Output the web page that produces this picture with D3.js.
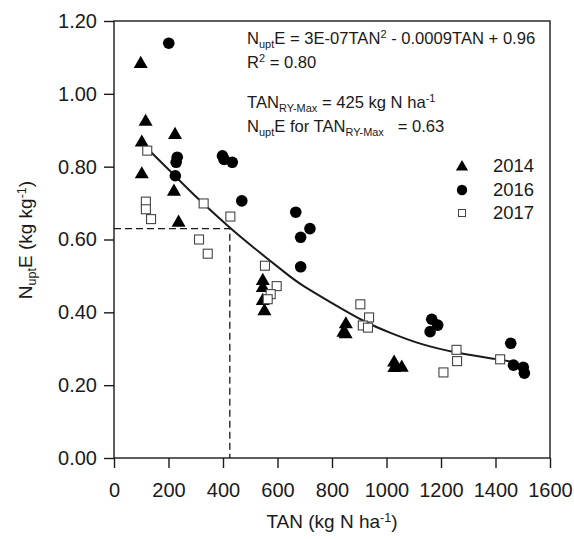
<!DOCTYPE html>
<html><head><meta charset="utf-8">
<script src="https://cdn.jsdelivr.net/npm/d3@7"></script>
<style>
body{margin:0;background:#fff;}
text{font-family:"Liberation Sans",Arial,sans-serif;fill:#1a1a1a;white-space:pre;}
</style></head>
<body><svg id="c" width="574" height="539"></svg>
<script>
// ---- data ----
const xTicks = [0,200,400,600,800,1000,1200,1400,1600];
const yTicks = [0,0.2,0.4,0.6,0.8,1.0,1.2];
const years = ["2014","2016","2017"];
const tan2014 = [98,116,102,102,224,220,237,546,546,546,552,851,842,850,1028,1029,1056];
const nue2014 = [1.085,0.926,0.869,0.782,0.89,0.734,0.649,0.489,0.47,0.434,0.406,0.37,0.347,0.343,0.265,0.25,0.251];
const tan2016 = [201,232,228,225,398,404,434,469,667,719,685,685,1166,1188,1160,1456,1466,1502,1506];
const nue2016 = [1.139,0.826,0.812,0.775,0.83,0.82,0.812,0.706,0.675,0.630,0.606,0.525,0.381,0.365,0.347,0.315,0.255,0.249,0.233];
const tan2017 = [122,117,117,136,329,427,312,344,554,597,575,564,904,936,913,932,1209,1257,1259,1417];
const nue2017 = [0.844,0.704,0.683,0.656,0.699,0.663,0.600,0.561,0.528,0.472,0.45,0.436,0.422,0.386,0.364,0.358,0.235,0.297,0.266,0.271];
// fitted curve as drawn
const fitTAN = [122,224,300,426,500,646,683,800,927,1013,1123,1258,1417,1455];
const fitNUE = [0.850,0.775,0.717,0.631,0.585,0.498,0.477,0.425,0.370,0.344,0.312,0.288,0.270,0.265];
const rymaxTAN = 425, rymaxNUE = 0.63;

// ---- drawing ----
const svg = d3.select("#c");
const L=114, R=550, T=21, B=458;
const x = d3.scaleLinear().domain([0,1600]).range([L,R]);
const y = d3.scaleLinear().domain([0,1.2]).range([B,T]);
const ink = "#1a1a1a";

// dashed guides
svg.append("path")
  .attr("d", `M${x(0)},${y(rymaxNUE)}H${x(rymaxTAN)}V${y(0)}`)
  .attr("fill","none").attr("stroke",ink).attr("stroke-width",1.3)
  .attr("stroke-dasharray","7,4");

// axes
const gx = svg.append("g").attr("transform",`translate(0,${B})`)
  .call(d3.axisBottom(x).tickValues(xTicks).tickSize(10).tickPadding(15).tickFormat(d3.format("d")));
const gy = svg.append("g").attr("transform",`translate(${L},0)`)
  .call(d3.axisLeft(y).tickValues(yTicks).tickSize(10).tickPadding(7).tickFormat(d3.format(".2f")));
[gx,gy].forEach(g=>{
  g.select(".domain").remove();
  g.selectAll(".tick line").attr("stroke",ink).attr("stroke-width",1.4);
  g.selectAll(".tick text").attr("font-size",20).attr("fill",ink)
   .style("font-family","'Liberation Sans',Arial,sans-serif");
});

// frame
svg.append("rect").attr("x",L).attr("y",T).attr("width",R-L).attr("height",B-T)
  .attr("fill","none").attr("stroke",ink).attr("stroke-width",1.4);

// fitted curve
const line = d3.line().x((d,i)=>x(fitTAN[i])).y((d,i)=>y(fitNUE[i])).curve(d3.curveBasis);
svg.append("path").datum(fitTAN).attr("d",line).attr("fill","none")
  .attr("stroke",ink).attr("stroke-width",2);

// points
const tri = d3.symbol().type(d3.symbolTriangle).size(85);
const zip = (a,b)=>a.map((v,i)=>[v,b[i]]);
svg.append("g").selectAll("path").data(zip(tan2014,nue2014)).join("path")
  .attr("d",tri).attr("transform",d=>`translate(${x(d[0])},${y(d[1])+1})`).attr("fill","#000");
svg.append("g").selectAll("circle").data(zip(tan2016,nue2016)).join("circle")
  .attr("cx",d=>x(d[0])).attr("cy",d=>y(d[1])).attr("r",5.8).attr("fill","#000");
svg.append("g").selectAll("rect").data(zip(tan2017,nue2017)).join("rect")
  .attr("x",d=>x(d[0])-4.5).attr("y",d=>y(d[1])-4.5).attr("width",9).attr("height",9)
  .attr("fill","#fff").attr("stroke","#444").attr("stroke-width",1.1);

// legend
const lg = svg.append("g");
const ly = [166,190,213];
lg.append("path").attr("d",d3.symbol().type(d3.symbolTriangle).size(65)).attr("transform",`translate(462,${ly[0]+1})`).attr("fill","#000");
lg.append("circle").attr("cx",462).attr("cy",ly[1]).attr("r",5.2).attr("fill","#000");
lg.append("rect").attr("x",458.5).attr("y",ly[2]-3.5).attr("width",7).attr("height",7).attr("fill","#fff").attr("stroke","#444").attr("stroke-width",1);
years.forEach((t,i)=>lg.append("text").attr("x",493).attr("y",ly[i]).attr("dy","0.35em").attr("font-size",18.5).text(t));

// annotation text
function rich(xp, yp, parts, fs){
  const t = svg.append("text").attr("x",xp).attr("y",yp).attr("font-size",fs);
  let shift = 0;
  parts.forEach(p=>{
    const [s, kind] = typeof p === "string" ? [p,"n"] : p;
    const target = kind==="sub" ? 4 : kind==="sup" ? -6 : 0;
    t.append("tspan").attr("dy", target - shift).attr("font-size", kind==="n"?fs:fs*0.66).text(s);
    shift = target;
  });
  return t;
}
rich(247,44,["N",["upt","sub"],"E = 3E-07TAN",["2","sup"]," - 0.0009TAN + 0.96"],16.6);
rich(247,68,["R",["2","sup"]," = 0.80"],16.6);
rich(247,108,["TAN",["RY-Max","sub"]," = 425 kg N ha",["-1","sup"]],16.6);
rich(247,132,["N",["upt","sub"],"E for TAN",["RY-Max","sub"],"   = 0.63"],16.6);

// axis titles
const xt = rich(0,528,["TAN (kg N ha",["-1","sup"],")"],19);
xt.attr("x",332).attr("text-anchor","middle");
const yt = svg.append("text").attr("transform","translate(32,240) rotate(-90)").attr("text-anchor","middle").attr("font-size",19);
[["N","n"],["upt","sub"],["E (kg kg","n"],["-1","sup"],[")","n"]].reduce((shift,[s,k])=>{
  const target = k==="sub"?4:k==="sup"?-6:0;
  yt.append("tspan").attr("dy",target-shift).attr("font-size",k==="n"?19:12.5).text(s);
  return target;
},0);
</script></body></html>
